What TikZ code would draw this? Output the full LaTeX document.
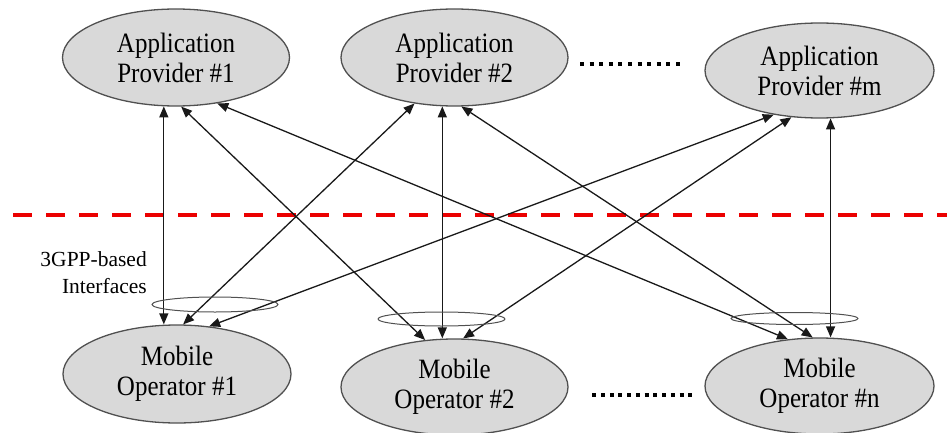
\documentclass[tikz,border=0pt]{standalone}
\usepackage{fontspec}
\setmainfont{Liberation Serif}
\usetikzlibrary{shapes.geometric,arrows.meta}
\definecolor{divred}{RGB}{235,0,0}
\definecolor{partyfill}{RGB}{217,217,217}
\definecolor{partyline}{RGB}{80,80,80}
\newcommand{\tallline}[1]{\scalebox{1}[1.12]{#1}}
\begin{document}
\begin{tikzpicture}[x=1pt,y=1pt,
  party/.style={ellipse, draw=partyline, line width=1.3pt, fill=partyfill, inner sep=0pt,
                align=center, font=\fontsize{25}{30}\selectfont},
  ring/.style={ellipse, draw=partyline, line width=1pt, inner sep=0pt},
  link/.style={draw=black!90, line width=1.3pt,
               {Triangle[length=11pt,width=9pt]}-{Triangle[length=11pt,width=9pt]}},
  divider/.style={draw=divred, line width=4pt, dash pattern=on 19pt off 14pt},
  dotrow/.style={draw=black, line width=4pt},
  lbl/.style={font=\fontsize{21.5}{27}\selectfont, align=right, inner sep=0pt}]
\useasboundingbox (0,0) rectangle (947,432);

% providers
\node[party, minimum width=227pt, minimum height=97pt] (ap1) at (176,374.5) {\tallline{Application}\\\tallline{Provider \#1}};
\node[party, minimum width=227pt, minimum height=97pt] (ap2) at (454.5,374.5) {\tallline{Application}\\\tallline{Provider \#2}};
\node[party, minimum width=229pt, minimum height=95pt] (apm) at (819.5,361.5) {\tallline{Application}\\\tallline{Provider \#m}};

% operators
\node[party, minimum width=228pt, minimum height=98pt] (mo1) at (177,58) {\tallline{Mobile}\\\tallline{Operator \#1}};
\node[party, minimum width=227pt, minimum height=96pt] (mo2) at (454.5,45) {\tallline{Mobile}\\\tallline{Operator \#2}};
\node[party, minimum width=229pt, minimum height=96pt] (mon) at (819.5,46) {\tallline{Mobile}\\\tallline{Operator \#n}};

% divider
\coordinate (dl) at (13,217);
\coordinate (dr) at (947,217);
\draw[divider] (dl) -- (dr);

% ellipsis dots
\coordinate (t1) at (580,368);
\coordinate (t2) at (680,368);
\draw[dotrow, dash pattern=on 4pt off 5.6pt] (t1) -- (t2);
\coordinate (b1) at (592.3,37);
\coordinate (b2) at (692.3,37);
\draw[dotrow, dash pattern=on 4pt off 4.73pt] (b1) -- (b2);

% links
\draw[link] (ap1.256.4) -- (ap1.256.4 |- mo1.north);
\draw[link] (ap1.276.8) -- (mo2.122.2);
\draw[link] (ap1.312.3) -- (mon.124.1);
\draw[link] (ap2.229.9) -- (mo1.83.4);
\draw[link] (ap2.256.1) -- (ap2.256.1 |- mo2.north);
\draw[link] (ap2.278.4) -- (mon.98.9);
\draw[link] (apm.224.5) -- (mo1.56);
\draw[link] (apm.239.2) -- (mo2.80.4);
\draw[link] (apm.283.4) -- (apm.283.4 |- mon.north);

% interface rings
\node[ring, minimum width=126pt, minimum height=15pt] (r1) at (215,127.5) {};
\node[ring, minimum width=127pt, minimum height=14pt] (r2) at (441.5,113) {};
\node[ring, minimum width=127pt, minimum height=12pt] (rn) at (794.5,113.5) {};

% label
\node[lbl, anchor=base east] (ifl) at (147,139) {3GPP-based\\Interfaces};
\end{tikzpicture}
\end{document}
